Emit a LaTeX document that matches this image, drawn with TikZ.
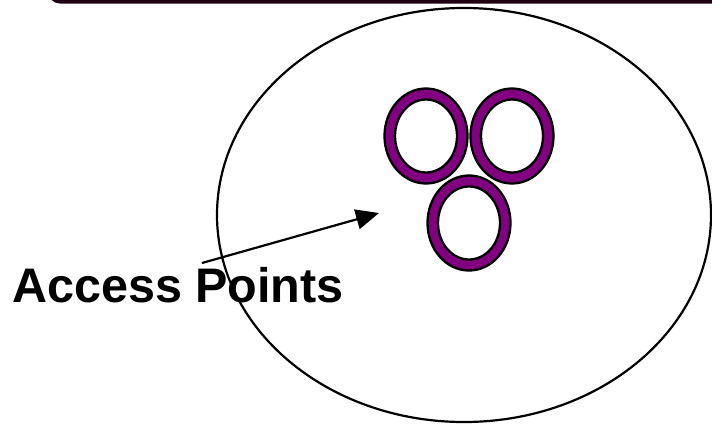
\documentclass[tikz,border=0pt]{standalone}
\usepackage{fontspec}
\setmainfont{Liberation Sans}
\usetikzlibrary{shapes.geometric,arrows.meta}
\definecolor{ringpurple}{RGB}{128,0,128}
\definecolor{barcol}{RGB}{30,0,20}
\tikzset{
  ringouter/.style={ellipse,draw=black,line width=2.3pt,fill=ringpurple,minimum width=83pt,minimum height=95pt,inner sep=0pt},
  ringinner/.style={ellipse,draw=black,line width=2.3pt,fill=white,minimum width=62pt,minimum height=73pt,inner sep=0pt},
  bigcell/.style={ellipse,draw=black,line width=2.2pt,minimum width=494pt,minimum height=414pt,inner sep=0pt},
  aplabel/.style={font=\bfseries\fontsize{48.5}{58}\selectfont,inner sep=0pt,anchor=base west},
  pointer/.style={line width=2.2pt,-{Triangle[length=23pt,width=20pt]}}
}
\begin{document}
\begin{tikzpicture}[x=1pt,y=-1pt]
\useasboundingbox (0,0) rectangle (712,424);
\fill[white] (0,0) rectangle (712,424);
% top bar
\begin{scope}
\clip (0,0) rectangle (712,424);
\fill[barcol,rounded corners=12pt] (48,-30) rectangle (740,3.5);
\end{scope}
% coverage area
\node[bigcell] (cell) at (464,215) {};
% access points
\node[ringouter] (r1o) at (426,136) {};
\node[ringinner] (r1i) at (r1o.center) {};
\node[ringouter] (r2o) at (512,136) {};
\node[ringinner] (r2i) at (r2o.center) {};
\node[ringouter] (r3o) at (469,223) {};
\node[ringinner] (r3i) at (r3o.center) {};
% label
\node[aplabel] (lbl) at (12,302) {Access Points};
\coordinate (astart) at (202,263);
\coordinate (atip) at (379,213);
\draw[pointer] (astart) -- (atip);
\end{tikzpicture}
\end{document}
